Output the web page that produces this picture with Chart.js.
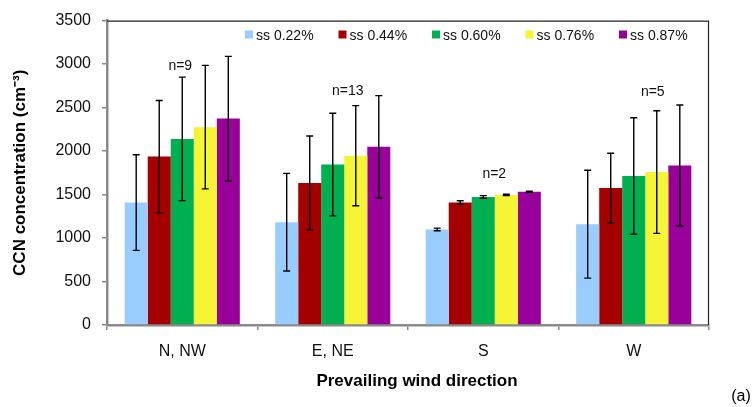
<!DOCTYPE html>
<html>
<head>
<meta charset="utf-8">
<script src="https://cdn.jsdelivr.net/npm/chart.js@4.4.1/dist/chart.umd.min.js"></script>
<style>
  html, body { margin: 0; padding: 0; background: #ffffff; }
  #wrap { width: 752px; height: 407px; position: relative; }
</style>
</head>
<body>
<div id="wrap"><canvas id="c" width="752" height="407"></canvas></div>
<script>
// ---- Data ----
const categories = ['N, NW', 'E, NE', 'S', 'W'];
const seriesLabels = ['ss 0.22%', 'ss 0.44%', 'ss 0.60%', 'ss 0.76%', 'ss 0.87%'];
const ss022 = [1408, 1182, 1099, 1159];
const ss044 = [1936, 1634, 1408, 1574];
const ss060 = [2140, 1845, 1472, 1713];
const ss076 = [2275, 1947, 1495, 1759];
const ss087 = [2373, 2049, 1532, 1834];
const err022 = [550, 561, 15, 620];
const err044 = [645, 539, 20, 400];
const err060 = [710, 590, 15, 670];
const err076 = [710, 575, 8, 705];
const err087 = [716, 588, 7, 695];
const yTicks = [0, 500, 1000, 1500, 2000, 2500, 3000, 3500];
const nLabels = ['n=9', 'n=13', 'n=2', 'n=5'];
const nLabelValues = [2980, 2690, 1735, 2675];

// ---- Styles ----
const colors = ['#99CCFF', '#A50000', '#00B050', '#F5F536', '#990099'];
const nLabelDx = [-2, 15, 11, 19];
const FONT = '"Liberation Sans", Arial, sans-serif';
const axisGray = '#8a8a8a';

const seriesValues = [ss022, ss044, ss060, ss076, ss087];
const seriesErrors = [err022, err044, err060, err076, err087];

const datasets = seriesValues.map((vals, i) => ({
  label: seriesLabels[i],
  data: vals,
  errors: seriesErrors[i],
  backgroundColor: colors[i],
  borderWidth: 0,
  barPercentage: 1.0,
  categoryPercentage: 0.765
}));

const errorBarPlugin = {
  id: 'errorBars',
  afterDatasetsDraw(chart) {
    const ctx = chart.ctx;
    const y = chart.scales.y;
    ctx.save();
    ctx.strokeStyle = '#000000';
    ctx.lineWidth = 1.4;
    chart.data.datasets.forEach((ds, di) => {
      const meta = chart.getDatasetMeta(di);
      meta.data.forEach((bar, i) => {
        const v = ds.data[i], e = ds.errors[i];
        const x = bar.x;
        const yt = y.getPixelForValue(v + e);
        const yb = y.getPixelForValue(v - e);
        ctx.beginPath();
        ctx.moveTo(x, yt); ctx.lineTo(x, yb);
        ctx.moveTo(x - 3.5, yt); ctx.lineTo(x + 3.5, yt);
        ctx.moveTo(x - 3.5, yb); ctx.lineTo(x + 3.5, yb);
        ctx.stroke();
      });
    });
    ctx.restore();
  }
};

const decorPlugin = {
  id: 'decor',
  afterDraw(chart) {
    const ctx = chart.ctx;
    const a = chart.chartArea;
    const xs = chart.scales.x, ys = chart.scales.y;
    ctx.save();
    // top and right frame
    ctx.strokeStyle = '#222222';
    ctx.lineWidth = 1.2;
    ctx.beginPath();
    ctx.moveTo(a.left, a.top + 0.5); ctx.lineTo(a.right, a.top + 0.5);
    ctx.moveTo(a.right - 0.5, a.top); ctx.lineTo(a.right - 0.5, a.bottom);
    ctx.stroke();

    // legend
    ctx.font = '14px ' + FONT;
    ctx.textBaseline = 'middle';
    ctx.textAlign = 'left';
    const lx0 = 245, lstep = 93.5, ly = 35;
    seriesLabels.forEach((lab, i) => {
      const x = lx0 + i * lstep;
      ctx.fillStyle = colors[i];
      ctx.fillRect(x, ly - 4.5, 8, 8);
      ctx.fillStyle = '#111111';
      ctx.fillText(lab, x + 11, ly + 1);
    });

    // n= labels
    ctx.font = '14px ' + FONT;
    ctx.textAlign = 'center';
    ctx.fillStyle = '#111111';
    nLabels.forEach((t, i) => {
      ctx.fillText(t, xs.getPixelForValue(i) + nLabelDx[i], ys.getPixelForValue(nLabelValues[i]));
    });

    // x axis title
    ctx.font = 'bold 17px ' + FONT;
    ctx.fillStyle = '#000000';
    ctx.fillText('Prevailing wind direction', 417, 381);

    // panel label
    ctx.font = '16px ' + FONT;
    ctx.fillText('(a)', 741, 397);
    ctx.restore();
  }
};

new Chart(document.getElementById('c'), {
  type: 'bar',
  data: { labels: categories, datasets: datasets },
  options: {
    responsive: false,
    animation: false,
    layout: { padding: { left: 0, right: 43, top: 16, bottom: 0 } },
    plugins: { legend: { display: false }, tooltip: { enabled: false } },
    scales: {
      x: {
        afterFit(s) { s.height = 82; },
        grid: { offset: true, drawOnChartArea: false, drawTicks: true, tickLength: 5, color: axisGray, lineWidth: 1.5 },
        border: { display: true, color: axisGray, width: 2.5 },
        ticks: { color: '#111111', font: { size: 16, family: FONT }, padding: 12,
                 callback: (v, i) => categories[i] }
      },
      y: {
        min: 0, max: 3500,
        afterFit(s) { s.width = 107; },
        afterBuildTicks(s) { s.ticks = yTicks.map(v => ({ value: v })); },
        grid: { drawOnChartArea: false, drawTicks: true, tickLength: 5, color: axisGray, lineWidth: 1.5 },
        border: { display: true, color: axisGray, width: 2.5 },
        ticks: { color: '#111111', font: { size: 16, family: FONT }, padding: 11,
                 callback: v => String(v) },
        title: {
          display: true,
          text: 'CCN concentration (cm\u207B\u00B3)',
          color: '#000000',
          font: { size: 17, weight: 'bold', family: FONT },
          padding: { top: 10, bottom: 0 }
        }
      }
    }
  },
  plugins: [errorBarPlugin, decorPlugin]
});
</script>
</body>
</html>
